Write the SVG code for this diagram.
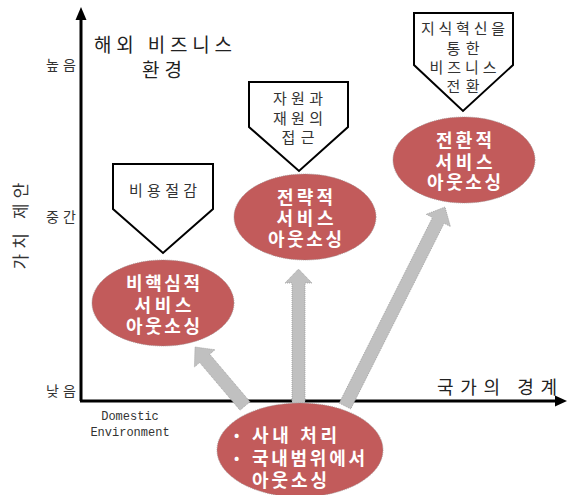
<svg xmlns="http://www.w3.org/2000/svg" width="568" height="495" viewBox="0 0 568 495">
  <style>
    .kr { font-family: "Noto Sans CJK KR", "Noto Sans", sans-serif; }
    .axis-lbl { font-size: 14px; fill: #333; }
    .title { font-size: 19px; fill: #222; }
    .callout { fill: #fff; stroke: #000; stroke-width: 2; }
    .callout-txt { font-size: 15px; fill: #333; text-anchor: middle; }
    .oval { fill: #c25b5b; stroke: #9a8a8a; stroke-width: 0.8; stroke-dasharray: 1 1; }
    .oval-txt { font-size: 18px; font-weight: bold; fill: #fff; text-anchor: middle; }
    .flow { fill: #c0c0c0; stroke: #999; stroke-width: 0.8; stroke-dasharray: 1 1; }
    .axis { stroke: #000; stroke-width: 3; fill: none; }
    .en { font-family: "Liberation Mono", "DejaVu Sans Mono", monospace; font-size: 12px; fill: #333; }
  </style>

  <!-- axes -->
  <g id="axes">
    <line class="axis" x1="81" y1="401" x2="81" y2="18"/>
    <polygon points="81,7 75.5,20 86.5,20" fill="#000"/>
    <line class="axis" x1="80" y1="401" x2="556" y2="401"/>
    <polygon points="567,401 555,395.5 555,406.5" fill="#000"/>
    <text class="kr axis-lbl" x="76" y="70" text-anchor="end" textLength="30">높음</text>
    <text class="kr axis-lbl" x="76" y="222" text-anchor="end" textLength="30">중간</text>
    <text class="kr axis-lbl" x="76" y="396" text-anchor="end" textLength="30">낮음</text>
    <text class="kr" font-size="17" fill="#333" text-anchor="middle" textLength="87" transform="translate(27,226) rotate(-90)">가치 제안</text>
    <text class="kr" font-size="18" fill="#222" x="497" y="394" text-anchor="middle" textLength="120">국가의 경계</text>
    <text class="en" x="130" y="420" text-anchor="middle">Domestic</text>
    <text class="en" x="130" y="436" text-anchor="middle">Environment</text>
  </g>

  <!-- heading -->
  <g id="heading">
    <text class="kr title" x="163" y="52" text-anchor="middle" textLength="138">해외 비즈니스</text>
    <text class="kr title" x="162" y="77" text-anchor="middle" textLength="40">환경</text>
  </g>

  <!-- connectors: grey block arrows from the bottom oval -->
  <g id="connectors">
    <!-- up-left to 비핵심적 -->
    <polygon class="flow" points="250,401.8 209.7,354.2 215,349.7 195,347 194.4,367.1 199.7,362.6 240,410.2"/>
    <!-- straight up to 전략적 -->
    <polygon class="flow" points="292,405 292,283 285,283 298.5,269 312,283 305,283 305,405"/>
    <!-- up-right to 전환적 -->
    <polygon class="flow" points="339.2,403.1 432.5,217.5 426.2,214.3 445,207 450.4,226.5 444.1,223.3 350.8,408.9"/>
  </g>

  <!-- callouts -->
  <g id="callout-cost">
    <polygon class="callout" points="113,164 213,164 213,209 163,253 113,209"/>
    <text class="kr callout-txt" x="163" y="196" textLength="68">비용절감</text>
  </g>
  <g id="callout-resource">
    <polygon class="callout" points="249,82 348,82 348,127 299,171 249,127"/>
    <text class="kr callout-txt" x="298" y="104" textLength="50">자원과</text>
    <text class="kr callout-txt" x="298" y="124" textLength="50">재원의</text>
    <text class="kr callout-txt" x="298" y="143" textLength="33">접근</text>
  </g>
  <g id="callout-transform">
    <polygon class="callout" points="414,13 513,13 513,65 463,111 414,65"/>
    <text class="kr callout-txt" x="463" y="34" textLength="84">지식혁신을</text>
    <text class="kr callout-txt" x="463" y="54" textLength="33">통한</text>
    <text class="kr callout-txt" x="463" y="73" textLength="67">비즈니스</text>
    <text class="kr callout-txt" x="463" y="92" textLength="33">전환</text>
  </g>

  <!-- ovals -->
  <g id="oval-noncore">
    <ellipse class="oval" cx="163" cy="303" rx="71" ry="43"/>
    <text class="kr oval-txt" x="163" y="290" textLength="74">비핵심적</text>
    <text class="kr oval-txt" x="163" y="312" textLength="57">서비스</text>
    <text class="kr oval-txt" x="163" y="333" textLength="74">아웃소싱</text>
  </g>
  <g id="oval-strategic">
    <ellipse class="oval" cx="305" cy="217" rx="71" ry="43"/>
    <text class="kr oval-txt" x="305" y="204" textLength="56">전략적</text>
    <text class="kr oval-txt" x="305" y="225" textLength="57">서비스</text>
    <text class="kr oval-txt" x="305" y="246" textLength="74">아웃소싱</text>
  </g>
  <g id="oval-transformational">
    <ellipse class="oval" cx="464" cy="160" rx="71" ry="43"/>
    <text class="kr oval-txt" x="464" y="147" textLength="56">전환적</text>
    <text class="kr oval-txt" x="464" y="169" textLength="57">서비스</text>
    <text class="kr oval-txt" x="464" y="189" textLength="74">아웃소싱</text>
  </g>
  <g id="oval-domestic">
    <ellipse class="oval" cx="300" cy="450" rx="83" ry="47"/>
    <text class="kr" font-size="14" font-weight="bold" fill="#fff" x="234" y="440">•</text>
    <text class="kr" font-size="14" font-weight="bold" fill="#fff" x="234" y="463">•</text>
    <text class="kr" font-size="18" font-weight="bold" fill="#fff" x="252" y="442" textLength="85">사내 처리</text>
    <text class="kr" font-size="18" font-weight="bold" fill="#fff" x="252" y="465" textLength="113">국내범위에서</text>
    <text class="kr" font-size="18" font-weight="bold" fill="#fff" x="252" y="487" textLength="75">아웃소싱</text>
  </g>
</svg>
